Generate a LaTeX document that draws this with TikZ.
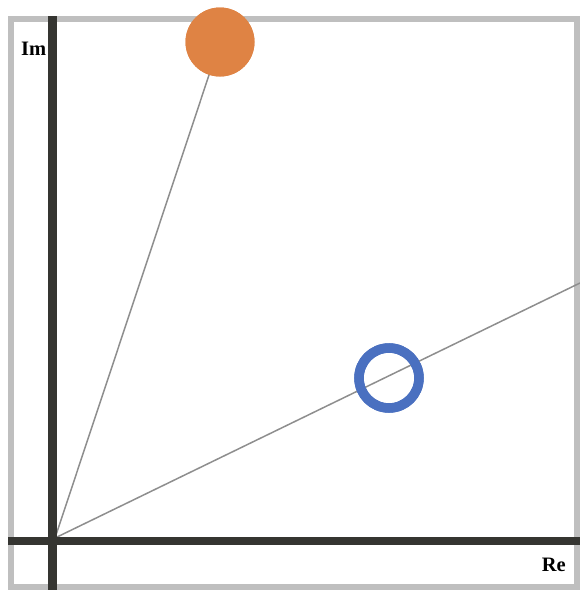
\documentclass[tikz,border=0pt]{standalone}
\usepackage{fontspec}
\setmainfont{Liberation Serif}
\definecolor{framegray}{HTML}{BFBFBF}
\definecolor{axisdark}{HTML}{353531}
\definecolor{linegray}{HTML}{8E8E8E}
\definecolor{dotorange}{HTML}{DF8344}
\definecolor{ringblue}{HTML}{4A70C0}
\tikzset{
  framebox/.style={draw=framegray, line width=6pt},
  axisline/.style={draw=axisdark, line width=8.5pt},
  rayline/.style={draw=linegray, line width=1.5pt},
  axislabel/.style={font=\fontsize{20.5}{24}\selectfont\bfseries, inner sep=0pt},
  fulldot/.style={circle, fill=dotorange, minimum size=69pt, inner sep=0pt},
  ringdot/.style={circle, draw=ringblue, line width=9.5pt, minimum size=60pt, inner sep=0pt}
}
\begin{document}
\begin{tikzpicture}[x=1pt,y=-1pt]
\useasboundingbox (0,0) rectangle (580,590);
\fill[white] (0,0) rectangle (580,590);
\draw[framebox] (11,19) rectangle (577,587);
\coordinate (O) at (55,538);
\coordinate (E) at (580,283);
\coordinate (Ytop) at (52.5,16);
\coordinate (Ybot) at (52.5,590);
\coordinate (Xl) at (8,541);
\coordinate (Xr) at (580,541);
\node[fulldot] (A) at (220,42) {};
\node[ringdot] (B) at (389,378) {};
\draw[rayline] (O) -- (A.center);
\draw[rayline] (O) -- (E);
\node[fulldot] at (A.center) {};
\node[ringdot] at (B.center) {};
\node[axislabel, anchor=base west] (Im) at (21,55) {Im};
\node[axislabel, anchor=base east] (Re) at (566,571) {Re};
\draw[axisline] (Ytop) -- (Ybot);
\draw[axisline] (Xl) -- (Xr);
\end{tikzpicture}
\end{document}
